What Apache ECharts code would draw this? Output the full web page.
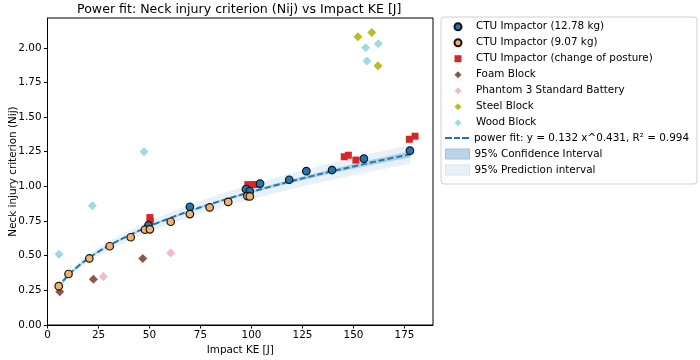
<!DOCTYPE html>
<html>
<head>
<meta charset="utf-8">
<script src="https://cdn.jsdelivr.net/npm/echarts@6/dist/echarts.min.js"></script>
<style>
  html, body { margin: 0; padding: 0; background: #fff; }
  #chart { width: 700px; height: 360px; }
</style>
</head>
<body>
<div id="chart"></div>
<script>
// measured points [KE (J), Nij]
const ctuHeavy = [[49.5, 0.72], [69.8, 0.853], [97.3, 0.98], [99.2, 0.965], [104.2, 1.02],
  [118.5, 1.048], [126.9, 1.11], [139.5, 1.118], [155.1, 1.2], [177.7, 1.258]]
const ctuLight = [[5.5, 0.28], [10.3, 0.368], [20.5, 0.48], [30.5, 0.568], [40.8, 0.633],
  [47.8, 0.688], [50.2, 0.69], [60.4, 0.745], [69.8, 0.80], [79.5, 0.848], [88.6, 0.888],
  [98.0, 0.93], [99.2, 0.928]]
const ctuPosture = [[50.2, 0.775], [50.4, 0.748], [98.2, 1.013], [100.2, 1.013], [102.0, 1.013],
  [145.5, 1.214], [147.5, 1.225], [151.2, 1.19], [177.4, 1.34], [180.2, 1.362]]
const foamBlock = [[6.0, 0.24], [22.5, 0.33], [46.7, 0.48]]
const phantomBattery = [[27.4, 0.35], [60.4, 0.52]]
const steelBlock = [[152.2, 2.08], [159.0, 2.11], [162.0, 1.87]]
const woodBlock = [[5.6, 0.51], [22.0, 0.86], [47.3, 1.25], [156.0, 2.0], [156.6, 1.905], [162.2, 2.03]]

// fit curve and bands
const fitX = [5, 7, 10, 15, 20, 25, 30, 40, 50, 60, 70, 80, 90, 100, 110, 120, 130, 140, 150, 160, 170, 178]
const fitY = [0.264, 0.305, 0.356, 0.424, 0.480, 0.529, 0.572, 0.647, 0.713, 0.771, 0.824, 0.873,
  0.918, 0.961, 1.001, 1.039, 1.076, 1.111, 1.144, 1.177, 1.208, 1.232]
const ciLow = [0.255, 0.297, 0.349, 0.417, 0.473, 0.522, 0.565, 0.640, 0.706, 0.764, 0.816, 0.865,
  0.909, 0.951, 0.990, 1.027, 1.062, 1.096, 1.127, 1.158, 1.187, 1.209]
const ciHigh = [0.273, 0.313, 0.363, 0.431, 0.487, 0.536, 0.579, 0.654, 0.720, 0.778, 0.832, 0.881,
  0.927, 0.971, 1.012, 1.051, 1.090, 1.126, 1.161, 1.196, 1.229, 1.255]
const piLow = [0.249, 0.288, 0.336, 0.401, 0.454, 0.500, 0.541, 0.612, 0.674, 0.729, 0.779, 0.825,
  0.868, 0.908, 0.946, 0.982, 1.017, 1.050, 1.081, 1.112, 1.142, 1.164]
const piHigh = [0.279, 0.322, 0.376, 0.447, 0.506, 0.558, 0.603, 0.682, 0.752, 0.813, 0.869, 0.921,
  0.968, 1.014, 1.056, 1.096, 1.135, 1.172, 1.207, 1.242, 1.274, 1.300]

const xTicks = [0, 25, 50, 75, 100, 125, 150, 175]
const yTicks = [0, 0.25, 0.5, 0.75, 1.0, 1.25, 1.5, 1.75, 2.0]

const FONT = 'DejaVu Sans'
const FIT_NAME = 'power fit: y = 0.132 x^0.431, R² = 0.994'
const chart = echarts.init(document.getElementById('chart'), null, { renderer: 'canvas' })

const bandSeries = (name, lo, hi, fill) => ({
  name,
  type: 'custom',
  z: 1,
  silent: true,
  itemStyle: { color: fill },
  data: [[fitX[0], lo[0]]],
  renderItem: (params, api) => {
    const pts = []
    for (let i = 0; i < fitX.length; i++) pts.push(api.coord([fitX[i], hi[i]]))
    for (let i = fitX.length - 1; i >= 0; i--) pts.push(api.coord([fitX[i], lo[i]]))
    return { type: 'polygon', shape: { points: pts }, style: { fill } }
  }
})

const scatter = (name, data, symbol, size, color, border, z) => ({
  name,
  type: 'scatter',
  data,
  symbol,
  symbolSize: size,
  z,
  itemStyle: border
    ? { color, borderColor: '#111', borderWidth: 1.2, opacity: 1 }
    : { color, opacity: 1 }
})

const legendText = { fontFamily: FONT, fontSize: 10.4, color: '#000', lineHeight: 16 }
const legendBase = {
  orient: 'vertical', left: 445, itemGap: 0, padding: 0,
  itemWidth: 24, textStyle: legendText
}

const option = {
  animation: false,
  backgroundColor: '#fff',
  graphic: [
    {
      type: 'text',
      left: 77,
      top: 3,
      style: { text: 'Power fit: Neck injury criterion (Nij) vs Impact KE [J]', font: '12.6px "DejaVu Sans"', fill: '#000' }
    },
    {
      type: 'rect',
      z: 0,
      shape: { x: 441, y: 17, width: 256, height: 167, r: 3 },
      style: { fill: '#fff', stroke: '#d0d0d0', lineWidth: 1 }
    }
  ],
  grid: {
    left: 47.5, right: 267, top: 18, bottom: 35,
    outerBoundsMode: 'none', containLabel: false,
    show: true, borderColor: '#000', borderWidth: 1, backgroundColor: 'transparent'
  },
  legend: [
    // markers: square icon box, text pushed right by a spacer
    {
      orient: 'vertical', left: 453.5, top: 18.7, itemGap: 0, padding: 0,
      itemWidth: 7, itemHeight: 7,
      formatter: name => '{sp|}' + name,
      textStyle: Object.assign({}, legendText, { rich: { sp: { width: 9.5, lineHeight: 16 } } }),
      data: ['CTU Impactor (12.78 kg)', 'CTU Impactor (9.07 kg)', 'CTU Impactor (change of posture)',
        'Foam Block', 'Phantom 3 Standard Battery', 'Steel Block', 'Wood Block']
    },
    Object.assign({}, legendBase, {
      top: 130, itemHeight: 2, symbolKeepAspect: false,
      data: [{
        name: FIT_NAME,
        icon: 'path://M0,0h7v2h-7z M9,0h6v2h-6z M17,0h7v2h-7z',
        itemStyle: { color: '#1f77b4' }
      }]
    }),
    Object.assign({}, legendBase, {
      top: 146, itemHeight: 10, symbolKeepAspect: false,
      data: [
        { name: '95% Confidence Interval', icon: 'rect', itemStyle: { color: '#bcd3e9', borderColor: '#9ebfdd', borderWidth: 1 } },
        { name: '95% Prediction interval', icon: 'rect', itemStyle: { color: '#e8f0f8', borderColor: '#d6e4f1', borderWidth: 1 } }
      ]
    })
  ],
  xAxis: {
    type: 'value', min: 0, max: 189, interval: 25,
    name: 'Impact KE [J]', nameLocation: 'middle', nameGap: 15,
    nameTextStyle: { fontFamily: FONT, fontSize: 10.4, color: '#000' },
    axisLine: { show: true, onZero: false, lineStyle: { color: '#000', width: 1 } },
    axisTick: { show: true, length: 3.5, customValues: xTicks, lineStyle: { color: '#000' } },
    axisLabel: { margin: 5, customValues: xTicks, fontFamily: FONT, fontSize: 10.4, color: '#000' },
    splitLine: { show: false }
  },
  yAxis: {
    type: 'value', min: 0, max: 2.215, interval: 0.25,
    name: 'Neck injury criterion (Nij)', nameLocation: 'middle', nameGap: 29, nameRotate: 90,
    nameMoveOverlap: false,
    nameTextStyle: { fontFamily: FONT, fontSize: 10.4, color: '#000' },
    axisLine: { show: true, onZero: false, lineStyle: { color: '#000', width: 1 } },
    axisTick: { show: true, length: 3.5, customValues: yTicks, lineStyle: { color: '#000' } },
    axisLabel: {
      margin: 6, customValues: yTicks, fontFamily: FONT, fontSize: 10.4, color: '#000',
      formatter: v => v.toFixed(2)
    },
    splitLine: { show: false }
  },
  series: [
    bandSeries('95% Prediction interval', piLow, piHigh, 'rgba(31,119,180,0.1)'),
    bandSeries('95% Confidence Interval', ciLow, ciHigh, 'rgba(31,119,180,0.28)'),
    {
      name: FIT_NAME,
      type: 'line',
      z: 2,
      symbol: 'none',
      smooth: true,
      data: fitX.map((x, i) => [x, fitY[i]]),
      itemStyle: { color: '#1f77b4' },
      lineStyle: { color: '#1f77b4', width: 2, type: [6, 3] }
    },
    scatter('CTU Impactor (12.78 kg)', ctuHeavy, 'circle', 7.5, '#1f77b4', true, 4),
    scatter('CTU Impactor (9.07 kg)', ctuLight, 'circle', 7.5, '#f3b26c', true, 4),
    scatter('CTU Impactor (change of posture)', ctuPosture, 'rect', 7, '#d62728', false, 3),
    scatter('Foam Block', foamBlock, 'diamond', 9, '#8c564b', false, 3),
    scatter('Phantom 3 Standard Battery', phantomBattery, 'diamond', 9, '#f7b6d2', false, 3),
    scatter('Steel Block', steelBlock, 'diamond', 9, '#bcbd22', false, 3),
    scatter('Wood Block', woodBlock, 'diamond', 9, '#9edae5', false, 3)
  ]
}

chart.setOption(option)
window.addEventListener('resize', () => chart.resize())
</script>
</body>
</html>
